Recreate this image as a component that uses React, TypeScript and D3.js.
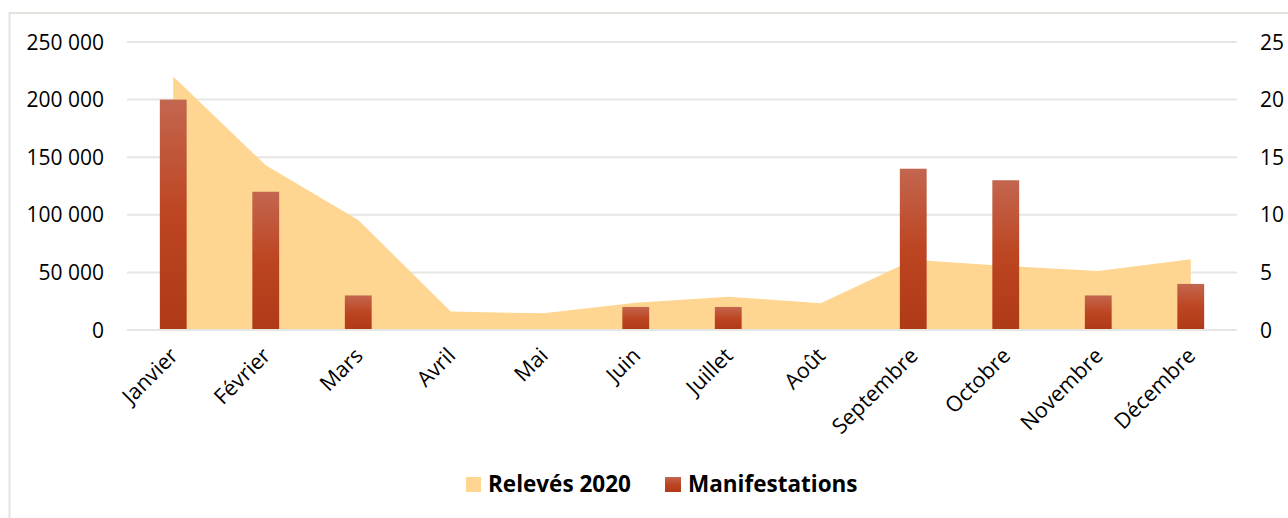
import React from "react";
import * as d3 from "d3";

const months = ["Janvier", "Février", "Mars", "Avril", "Mai", "Juin", "Juillet", "Août", "Septembre", "Octobre", "Novembre", "Décembre"];
const releves2020 = [220000, 143000, 95500, 16000, 14500, 23700, 28900, 23200, 61000, 55500, 51200, 61400];
const manifestations = [20, 12, 3, 0, 0, 2, 2, 0, 14, 13, 3, 4];
const leftTicks = [0, 50000, 100000, 150000, 200000, 250000];
const rightTicks = [0, 5, 10, 15, 20, 25];

const W = 1288;
const H = 518;
const plotLeft = 127;
const plotRight = 1237;
const plotTop = 42;
const plotBottom = 330;
const FONT = "'Open Sans', Lato, sans-serif";

export default function App() {
  const x = d3.scaleBand<string>().domain(months).range([plotLeft, plotRight]).padding(0);
  const yL = d3.scaleLinear().domain([0, 250000]).range([plotBottom, plotTop]);
  const yR = d3.scaleLinear().domain([0, 25]).range([plotBottom, plotTop]);
  const cx = (m: string) => (x(m) as number) + x.bandwidth() / 2;
  const barW = x.bandwidth() * 0.29;

  const area = d3
    .area<number>()
    .x((_, i) => cx(months[i]))
    .y0(yL(0))
    .y1((d) => yL(d));

  const fmt = (v: number) => d3.format(",")(v).replace(/,/g, " ");

  return (
    <svg width={W} height={H} style={{ position: "absolute", left: 0, top: 0, display: "block" }}>
      <defs>
        <linearGradient id="barGrad" x1="0" y1="0" x2="0" y2="1">
          <stop offset="0%" stopColor="#C3664F" />
          <stop offset="50%" stopColor="#BD4521" />
          <stop offset="100%" stopColor="#AF3A17" />
        </linearGradient>
      </defs>
      <rect x={0} y={0} width={W} height={H} fill="#ffffff" />
      <rect x={9.5} y={13} width={W + 20} height={H + 20} fill="#ffffff" stroke="#E4E4DE" strokeWidth={2} />
      {leftTicks.map((t) => (
        <line key={"g" + t} x1={plotLeft} x2={plotRight} y1={yL(t)} y2={yL(t)} stroke="#E6E6E2" strokeWidth={2} />
      ))}
      <path d={area(releves2020) || ""} fill="#FED692" />
      {manifestations.map((v, i) =>
        v > 0 ? (
          <rect
            key={"b" + i}
            x={cx(months[i]) - barW / 2}
            y={yR(v)}
            width={barW}
            height={yR(0) - yR(v)}
            fill="url(#barGrad)"
          />
        ) : null
      )}
      <line x1={plotLeft} x2={plotRight} y1={yL(0)} y2={yL(0)} stroke="#E6E6E2" strokeWidth={2} />
      {leftTicks.map((t) => (
        <text key={"l" + t} x={104} y={yL(t) + 7.5} textAnchor="end" fontFamily={FONT} fontSize={21} fill="#000">
          {fmt(t)}
        </text>
      ))}
      {rightTicks.map((t) => (
        <text key={"r" + t} x={1260} y={yR(t) + 7.5} textAnchor="start" fontFamily={FONT} fontSize={21} fill="#000">
          {t}
        </text>
      ))}
      {months.map((m) => (
        <text
          key={"x" + m}
          transform={`translate(${cx(m) + 6},${plotBottom + 27}) rotate(-45)`}
          textAnchor="end"
          fontFamily={FONT}
          fontSize={21.5}
          fill="#000"
        >
          {m}
        </text>
      ))}
      <g>
        <rect x={466} y={477} width={15} height={15} fill="#FED692" />
        <text x={488} y={492} fontFamily={FONT} fontSize={22.5} fontWeight="bold" fill="#000">
          Relevés 2020
        </text>
        <rect x={665} y={477} width={16} height={15} fill="url(#barGrad)" />
        <text x={688} y={492} fontFamily={FONT} fontSize={22.5} fontWeight="bold" fill="#000">
          Manifestations
        </text>
      </g>
    </svg>
  );
}
